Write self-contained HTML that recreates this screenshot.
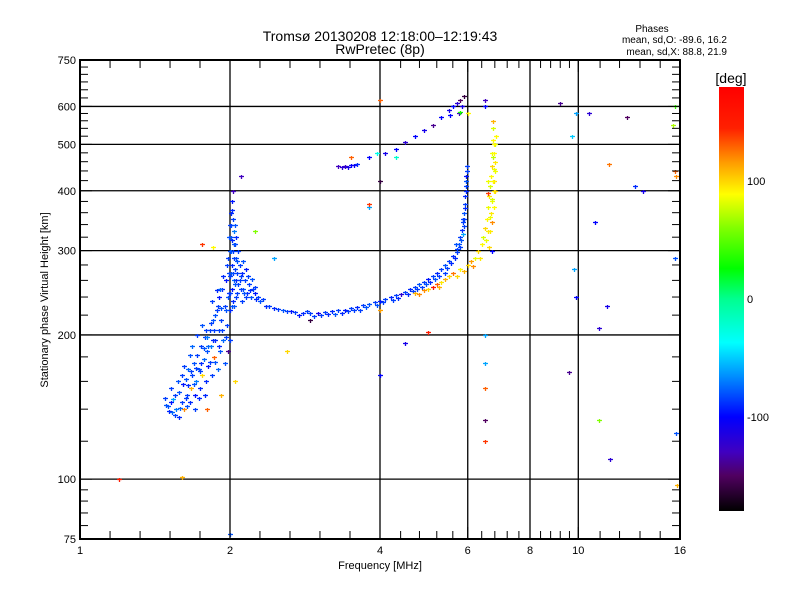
<!DOCTYPE html>
<html><head><meta charset="utf-8">
<style>
body{margin:0;background:#fff;}
svg{display:block;font-family:"Liberation Sans",sans-serif;}
</style></head>
<body>
<svg id="chart" width="800" height="600" viewBox="0 0 800 600">
<defs>
<linearGradient id="cbar" x1="0" y1="1" x2="0" y2="0">
<stop offset="0" stop-color="#000000"/>
<stop offset="0.083" stop-color="#500060"/>
<stop offset="0.139" stop-color="#4000c0"/>
<stop offset="0.222" stop-color="#0000ff"/>
<stop offset="0.319" stop-color="#0090ff"/>
<stop offset="0.397" stop-color="#00ffff"/>
<stop offset="0.5" stop-color="#00ff90"/>
<stop offset="0.572" stop-color="#00ff00"/>
<stop offset="0.667" stop-color="#80ff00"/>
<stop offset="0.747" stop-color="#ffff00"/>
<stop offset="0.819" stop-color="#ffa000"/>
<stop offset="0.903" stop-color="#ff2000"/>
<stop offset="1" stop-color="#ff0000"/>
</linearGradient>
</defs>
<rect width="800" height="600" fill="#fff"/>
<text x="380" y="41" font-size="14" text-anchor="middle">Tromsø 20130208 12:18:00–12:19:43</text>
<text x="380" y="54" font-size="14" text-anchor="middle">RwPretec (8p)</text>
<text x="652" y="32" font-size="10" text-anchor="middle">Phases</text>
<text x="727" y="43" font-size="10" text-anchor="end">mean, sd,O: -89.6, 16.2</text>
<text x="727" y="55" font-size="10" text-anchor="end">mean, sd,X:  88.8, 21.9</text>
<g id="grid"></g>
<g id="marks"></g>
<rect x="80" y="60" width="600" height="479" fill="none" stroke="#000" stroke-width="2"/>
<g id="axes"></g>
<text x="380" y="569" font-size="11" text-anchor="middle">Frequency [MHz]</text>
<text transform="translate(48,300) rotate(-90)" font-size="11" text-anchor="middle">Stationary phase Virtual Height [km]</text>
<rect x="719" y="87" width="25" height="424" fill="url(#cbar)"/>
<text x="731" y="83" font-size="14" text-anchor="middle">[deg]</text>
<g id="cbticks"></g>
</svg>
<script>
const xMajorTicks = [1, 2, 4, 6, 8, 10, 16];
const xGridLines = [2, 4, 6, 8, 10];
const xMinorTicks = [1.149, 1.32, 1.516, 1.741, 2.297, 2.639, 3.031, 3.482, 4.4, 4.8, 5.2, 5.6, 6.4, 6.8, 7.2, 7.6, 8.4, 8.8, 9.2, 9.6, 11.06, 12.1, 13.3, 14.6];
const yMajorTicks = [75, 100, 200, 300, 400, 500, 600, 750];
const yGridLines = [100, 200, 300, 400, 500, 600];
const yMinorTicks = [80, 85, 90, 95, 120, 140, 160, 180, 220, 240, 260, 280, 320, 340, 360, 380, 420, 440, 460, 480, 520, 540, 560, 580, 625, 650, 675, 700, 725];
const colorbarTicks = [100, 0, -100];

// [frequency MHz, height km, phase deg]
const oLowCluster = [[1.48,148,-85],[1.50,142,-80],[1.52,145,-95],[1.53,138,-75],[1.55,150,-85],[1.56,140,-70],[1.58,135,-90],[1.58,152,-80],[1.60,145,-85],[1.61,158,-95],[1.62,140,120],[1.63,162,-80],[1.64,150,-85],[1.65,170,-75],[1.66,145,-90],[1.67,155,110],[1.68,165,-85],[1.69,175,-80],[1.70,150,-95],[1.71,160,-70],[1.72,182,-85],[1.73,170,-80],[1.74,155,-90],[1.75,190,-85],[1.76,165,100],[1.77,178,-75],[1.78,198,-85],[1.79,160,-90],[1.80,185,-80],[1.81,172,-95],[1.82,205,-85],[1.83,190,-70],[1.84,165,-85],[1.85,215,-80],[1.86,180,130],[1.87,195,-90],[1.88,225,-85],[1.89,170,-75],[1.90,205,-85],[1.90,240,-95],[1.91,185,-80],[1.92,215,-85],[1.93,250,-90],[1.94,195,-75],[1.95,230,-85],[1.95,175,-80],[1.96,260,-95],[1.97,210,-85],[1.98,240,-80],[1.98,185,-140],[1.99,270,-85],[2.00,225,-90],[2.00,195,-85],[1.57,160,-80],[1.62,172,-85],[1.68,190,-75],[1.72,200,-85],[1.52,155,-85],[1.76,210,-80],[1.84,235,-85],[1.88,248,-90],[1.54,147,-60],[1.60,165,-85],[1.66,182,-80],[1.74,168,-85],[1.80,198,-70],[1.86,205,-85],[1.92,228,-80],[1.70,140,-85],[1.78,150,-90],[1.49,143,-80],[1.51,139,-90],[1.55,136,-85],[1.59,141,-75],[1.63,148,-85],[1.65,157,-90],[1.69,158,-80],[1.71,171,-85],[1.75,175,-90],[1.77,188,-80],[1.79,205,-85],[1.81,190,-75],[1.83,212,-85],[1.85,195,-90],[1.87,220,-80],[1.89,230,-85],[1.91,250,-75],[1.93,205,-85],[1.94,265,-90],[1.96,225,-80],[1.97,280,-85],[1.99,245,-90],[1.82,176,-85],[1.87,176,-80],[1.90,190,-90],[1.96,198,-85],[1.64,142,-80],[1.73,148,-90],[1.67,168,-85]];
const oSpike = [[2.00,300,-85],[2.01,320,-80],[2.02,280,-90],[2.03,350,-85],[2.04,260,-75],[2.02,380,-95],[2.05,310,-85],[2.06,290,-80],[2.03,400,-130],[2.07,270,-85],[2.04,330,-70],[2.08,255,-85],[2.01,360,-90],[2.06,240,-85],[2.05,340,-80],[2.09,280,-85],[2.02,250,-95],[2.10,265,-85],[2.12,250,-80],[2.14,260,-85],[2.16,245,-90],[2.18,255,-85],[2.20,240,-80],[2.22,250,-85],[2.25,245,-95],[2.28,240,-85],[2.30,235,-80],[2.33,238,-85],[2.36,230,-90],[1.98,290,-85],[1.99,320,-80],[2.00,265,-85],[2.08,300,-85],[2.04,230,-80],[2.11,235,-85],[2.15,275,-95],[2.01,300,-75],[2.03,270,-85],[2.05,255,-80],[2.07,245,-85],[2.02,315,-90],[2.04,290,-85],[2.01,340,-80],[2.02,365,-90],[2.03,300,-85],[2.04,310,-80],[2.05,275,-85],[2.06,260,-90],[2.07,285,-80],[2.09,260,-85],[2.11,270,-90],[2.13,245,-80],[2.17,265,-85],[2.19,248,-90],[2.21,262,-80],[2.24,252,-85],[2.26,238,-90],[2.00,245,-85],[2.01,270,-80],[2.03,235,-90],[2.10,250,-85],[2.12,285,-80],[2.15,240,-85],[2.06,320,-90],[2.00,340,-85],[2.02,230,-80]];
const oMain = [[2.40,230,-85],[2.45,228,-90],[2.50,227,-85],[2.55,225,-80],[2.60,224,-85],[2.65,224,-95],[2.70,223,-85],[2.80,222,-90],[2.90,222,-85],[3.00,222,-110],[3.10,223,-85],[3.20,224,-90],[3.30,225,-85],[3.40,226,-95],[3.50,228,-85],[3.60,229,-90],[3.70,231,-85],[3.80,232,-80],[3.90,234,-85],[4.00,236,-95],[4.10,238,-85],[4.20,240,-90],[4.30,242,-85],[4.40,244,-120],[4.50,246,-85],[4.60,249,-90],[4.70,252,-85],[4.80,255,-80],[4.90,258,-85],[5.00,262,-95],[5.10,266,-85],[5.20,270,-90],[5.30,275,-85],[5.40,280,-80],[5.50,286,-85],[5.60,293,-90],[5.70,302,-85],[5.75,310,-80],[5.80,320,-85],[5.85,332,-90],[5.88,345,-85],[5.90,360,-80],[5.92,375,-85],[5.93,390,-90],[5.95,410,-85],[5.96,430,-95],[5.97,450,-85],[2.75,220,-95],[3.05,220,-85],[3.35,222,-90],[3.65,226,-85],[3.95,231,-80],[4.25,237,-85],[4.55,243,-90],[4.85,252,-85],[5.15,262,-80],[5.45,276,-85],[5.65,290,-90],[5.78,305,-85],[5.87,325,-60],[5.91,350,-85],[2.85,224,-85],[3.15,221,-90],[3.45,224,-85],[3.75,229,-80],[4.05,234,-85],[4.35,239,-90],[4.65,247,-85],[4.95,255,-80],[5.25,266,-85],[5.55,282,-90],[5.72,298,-85],[5.82,315,-80],[5.89,338,-85],[5.94,400,-90],[5.96,420,-80],[5.98,440,-85],[5.92,368,-90],[5.86,350,-85],[5.68,310,-80],[5.40,270,-85],[5.05,258,-90],[4.75,249,-85],[2.95,219,-85],[3.25,221,-80],[3.55,225,-85]];
const xTrace = [[4.70,245,110],[4.90,248,120],[5.00,250,100],[5.20,255,130],[5.30,258,95],[5.40,262,110],[5.50,265,100],[5.60,270,125],[5.80,275,90],[6.00,280,100],[6.10,285,115],[6.20,290,85],[6.30,300,100],[6.40,310,90],[6.45,320,80],[6.50,335,100],[6.55,350,90],[6.60,370,85],[6.62,390,95],[6.65,410,80],[6.67,430,90],[6.70,450,100],[6.72,480,85],[6.73,510,90],[6.74,540,80],[6.75,560,110],[6.68,360,95],[6.72,380,85],[6.76,400,90],[6.78,420,100],[6.80,440,85],[6.82,460,95],[6.78,480,90],[6.80,500,80],[6.84,520,90],[6.70,345,120],[6.65,330,95],[6.74,470,75],[6.82,400,100],[6.60,420,85],[6.58,395,140],[6.76,370,90],[6.70,300,-100],[6.62,305,100],[5.90,272,110],[5.10,252,150],[4.80,243,120],[5.25,252,110],[5.70,265,100],[6.15,278,120],[6.35,290,95],[6.52,315,85],[6.58,330,95],[6.66,352,85],[6.70,385,80],[6.74,420,90],[6.76,445,85],[6.78,500,90]];
const upperTrace = [[3.30,450,-130],[3.35,448,-120],[3.40,450,-125],[3.45,449,-110],[3.50,452,-100],[3.55,452,-105],[3.60,455,-90],[3.80,470,-100],[4.10,480,-110],[4.30,490,-100],[4.50,505,-120],[4.70,520,-100],[4.90,535,-110],[5.10,550,-140],[5.30,570,-100],[5.50,590,-110],[5.60,600,-100],[5.70,610,-120],[5.80,620,-150],[5.90,630,-160],[5.85,600,-110],[5.75,580,-130],[5.52,575,-100]];
const scattered = [[6.5,620,-130],[9.2,610,-140],[9.9,580,-60],[10.5,580,-120],[12.5,570,-150],[15.6,600,40],[15.5,550,70],[9.7,520,-50],[15.6,440,130],[15.7,430,120],[13.0,410,-90],[13.5,400,-110],[10.8,345,-100],[11.5,455,125],[9.8,275,-60],[9.9,240,-100],[11.4,230,-110],[11.0,207,-120],[15.6,290,-80],[9.6,167,-140],[15.7,125,-80],[11.6,110,-120],[11.0,133,60],[15.8,97,110],[6.5,200,-60],[6.5,175,-60],[6.5,155,130],[6.5,133,-150],[6.5,120,140],[4.0,165,-100],[4.5,192,-110],[3.95,480,-30],[4.0,420,-160],[4.0,620,130],[3.5,470,130],[4.3,470,-20],[4.0,225,115],[2.0,77,-80],[1.6,101,110],[1.2,100,150],[2.6,185,100],[5.0,203,150],[1.76,310,140],[2.25,330,60],[1.85,305,90],[2.45,290,-60],[2.9,215,-160],[2.1,430,-130],[3.8,370,-60],[3.8,375,140],[5.8,585,30],[6.5,600,-100],[6.0,580,90],[2.05,160,100],[1.92,150,110],[1.8,140,130]];

const NS = "http://www.w3.org/2000/svg";
const X0 = 80, X1 = 680, Y0 = 539, Y1 = 60;
function xScale(f){ return X0 + (X1 - X0) * Math.log(f) / Math.log(16); }
function yScale(h){ return Y0 - (Y0 - Y1) * Math.log(h / 75) / Math.log(10); }
function cbScale(p){ return 511 - (p + 180) / 360 * 424; }
const stops = [[-180,[0,0,0]],[-150,[80,0,96]],[-130,[64,0,192]],[-100,[0,0,255]],[-65,[0,144,255]],[-37,[0,255,255]],[0,[0,255,144]],[26,[0,255,0]],[60,[128,255,0]],[89,[255,255,0]],[115,[255,160,0]],[145,[255,32,0]],[180,[255,0,0]]];
function phaseColor(p){
  for(let i=1;i<stops.length;i++){
    if(p<=stops[i][0]){
      const a=stops[i-1],b=stops[i],t=(p-a[0])/(b[0]-a[0]);
      const c=a[1].map((v,k)=>Math.round(v+(b[1][k]-v)*t));
      return `rgb(${c[0]},${c[1]},${c[2]})`;
    }
  }
  return "rgb(255,0,0)";
}
function mk(tag, attrs, parent){
  const e=document.createElementNS(NS,tag);
  for(const k in attrs) e.setAttribute(k,attrs[k]);
  parent.appendChild(e); return e;
}
const grid=document.getElementById('grid');
xGridLines.forEach(f=>{
  const l=mk('line',{x1:xScale(f),x2:xScale(f),y1:Y1,y2:Y0,stroke:'#000','stroke-width':1.3},grid);
  
  
});
yGridLines.forEach(h=>{
  const l=mk('line',{x1:X0,x2:X1,y1:yScale(h),y2:yScale(h),stroke:'#000','stroke-width':1.3},grid);
  
  
});
const axes=document.getElementById('axes');
function tickPair(x1,y1,x2,y2,name){
  const l=mk('line',{x1:x1,y1:y1,x2:x2,y2:y2,stroke:'#000','stroke-width':1},axes);
  
  
}
xMinorTicks.forEach(f=>{const x=xScale(f);tickPair(x,Y0,x,Y0-8,'x-minor-tick');tickPair(x,Y1,x,Y1+8,'x-minor-tick');});
xMajorTicks.forEach(f=>{
  const x=xScale(f);
  tickPair(x,Y0,x,Y0-12,'x-major-tick');tickPair(x,Y1,x,Y1+12,'x-major-tick');
  const t=mk('text',{x:x,y:554,'font-size':11,'text-anchor':'middle'},axes);
  t.textContent=f;
  
  
});
yMinorTicks.forEach(h=>{const y=yScale(h);tickPair(X0,y,X0+8,y,'y-minor-tick');tickPair(X1,y,X1-8,y,'y-minor-tick');});
yMajorTicks.forEach(h=>{
  const y=yScale(h);
  tickPair(X0,y,X0+12,y,'y-major-tick');tickPair(X1,y,X1-12,y,'y-major-tick');
  const t=mk('text',{x:76,y:y+4,'font-size':11,'text-anchor':'end'},axes);
  t.textContent=h;
  
  
});
const cb=document.getElementById('cbticks');
colorbarTicks.forEach(p=>{
  const y=cbScale(p);
  const t=mk('text',{x:747,y:y+4,'font-size':11},cb);
  t.textContent=p;
  
  
});
const marks=document.getElementById('marks');
function drawGroup(arr,name){
  arr.forEach(d=>{
    const x=Math.round(xScale(d[0])), y=Math.round(yScale(d[1]));
    const p=mk('path',{d:`M${x-2} ${y+0.5}h5M${x+0.5} ${y-1}v4`,stroke:phaseColor(d[2]),'stroke-width':1.3,fill:'none'},marks);
    
    
  });
}
drawGroup(oLowCluster,'o-trace-low-point');
drawGroup(oSpike,'o-trace-spike-point');
drawGroup(oMain,'o-trace-main-point');
drawGroup(xTrace,'x-trace-point');
drawGroup(upperTrace,'upper-trace-point');
drawGroup(scattered,'scattered-point');
</script>
</body></html>
